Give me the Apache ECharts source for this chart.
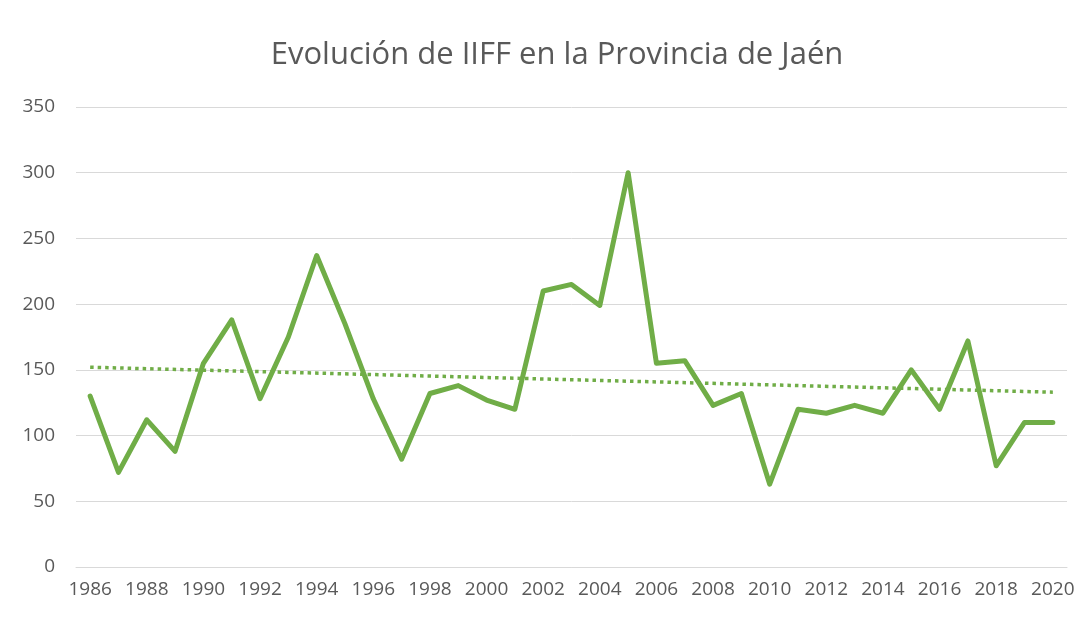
<!DOCTYPE html>
<html>
<head>
<meta charset="utf-8">
<script src="https://cdn.jsdelivr.net/npm/echarts@6/dist/echarts.min.js"></script>
<style>
html,body{margin:0;padding:0;background:#fff;}
#chart{width:1083px;height:619px;}
</style>
</head>
<body>
<div id="chart"></div>
<script>
const years = ['1986','1987','1988','1989','1990','1991','1992','1993','1994','1995','1996','1997','1998','1999','2000','2001','2002','2003','2004','2005','2006','2007','2008','2009','2010','2011','2012','2013','2014','2015','2016','2017','2018','2019','2020'];
const iiff = [130,72,112,88,155,188,128,175,237,185,128,82,132,138,127,120,210,215,199,300,155,157,123,132,63,120,117,123,117,150,120,172,77,110,110];
const trendStart = 152;
const trendEnd = 133;
const titleText = 'Evolución de IIFF en la Provincia de Jaén';

const chart = echarts.init(document.getElementById('chart'));
const fontFam = '"Open Sans", "Noto Sans", sans-serif';
chart.setOption({
  animation: false,
  backgroundColor: '#ffffff',
  title: {
    text: titleText,
    left: 552,
    textAlign: 'center',
    top: 35,
    textStyle: { fontFamily: fontFam, fontSize: 31, fontWeight: 'normal', color: '#595959' }
  },
  grid: { left: 76, right: 16, top: 107, bottom: 52 },
  xAxis: {
    type: 'category',
    data: years,
    boundaryGap: true,
    axisLine: { show: true, lineStyle: { color: '#d9d9d9', width: 1 } },
    axisTick: { show: false },
    axisLabel: { interval: 1, color: '#595959', fontFamily: fontFam, fontSize: 19, margin: 13 }
  },
  yAxis: {
    type: 'value',
    min: 0, max: 350, interval: 50,
    axisLine: { show: false },
    axisTick: { show: false },
    splitLine: { lineStyle: { color: '#d9d9d9', width: 1 } },
    axisLabel: { color: '#595959', fontFamily: fontFam, fontSize: 19, margin: 21 }
  },
  series: [
    {
      type: 'line',
      data: iiff,
      symbol: 'none',
      lineStyle: { color: '#70ad47', width: 5, join: 'round', cap: 'round' },
      z: 3
    },
    {
      type: 'line',
      data: [[0, trendStart], [years.length - 1, trendEnd]],
      symbol: 'none',
      lineStyle: { color: '#70ad47', width: 3.5, type: [3.5, 4] },
      z: 2
    }
  ]
});
</script>
</body>
</html>
